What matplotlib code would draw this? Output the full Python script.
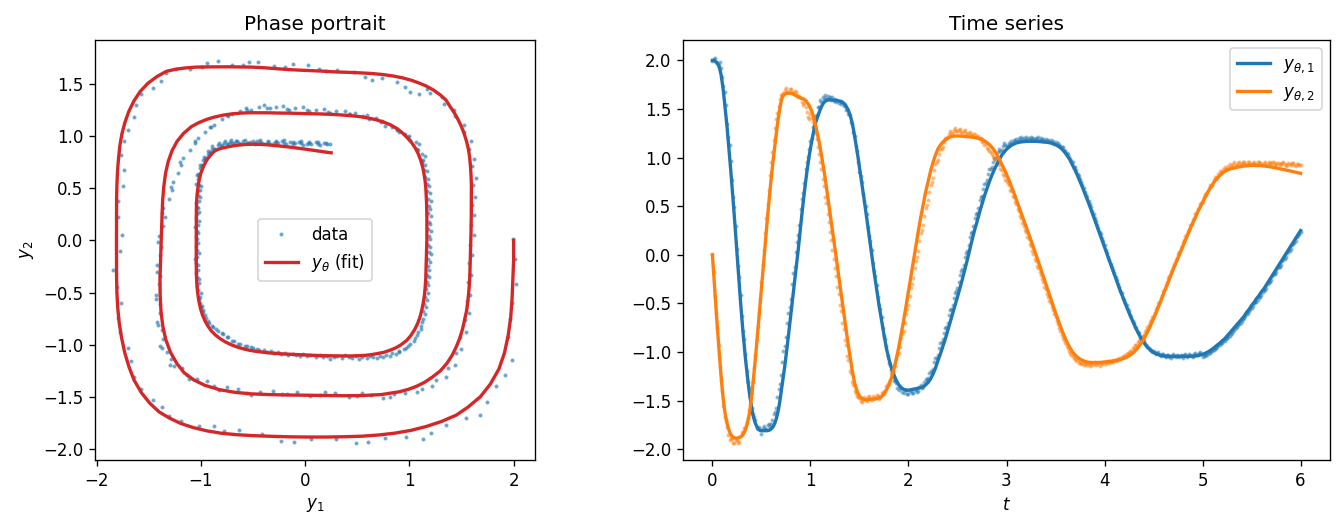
import matplotlib
matplotlib.use("Agg")
import matplotlib.pyplot as plt
import numpy as np

# time grids: fit is sampled finer on the fast first loop
t_fit = np.concatenate([np.linspace(0, 1.5, 121), np.linspace(1.525, 6, 180)])
t_data = np.linspace(0, 6, 481)

# fitted trajectory y_theta
y1_fit = [
    2.0, 2.0, 1.992, 1.985, 1.972, 1.948, 1.912, 1.858, 1.775, 1.68, 1.56, 1.45, 1.31, 1.165, 1.02, 0.865, 0.71, 0.545, 0.38, 0.205,
    0.03, -0.145, -0.32, -0.49, -0.65, -0.80, -0.94, -1.07, -1.19, -1.30, -1.40, -1.49, -1.57, -1.64, -1.69, -1.73, -1.76, -1.783, -1.797, -1.805,
    -1.808, -1.809, -1.809, -1.809, -1.809, -1.808, -1.805, -1.799, -1.789, -1.776, -1.757, -1.728, -1.691, -1.642, -1.583, -1.508, -1.42, -1.33, -1.24, -1.15,
    -1.05, -0.945, -0.835, -0.725, -0.615, -0.505, -0.395, -0.285, -0.18, -0.07, 0.05, 0.175, 0.295, 0.415, 0.53, 0.64, 0.745, 0.845, 0.935, 1.02,
    1.095, 1.165, 1.23, 1.295, 1.35, 1.389, 1.426, 1.461, 1.495, 1.524, 1.548, 1.567, 1.579, 1.587, 1.592, 1.595, 1.595, 1.595, 1.594, 1.592,
    1.591, 1.589, 1.586, 1.584, 1.581, 1.578, 1.571, 1.562, 1.55, 1.53, 1.51, 1.484, 1.45, 1.41, 1.359, 1.298, 1.22, 1.15, 1.07, 0.99,
    0.90,
    0.73, 0.555, 0.37, 0.18, 0.0, -0.18, -0.35, -0.52, -0.67, -0.82, -0.96, -1.07, -1.16, -1.23, -1.29, -1.335, -1.365, -1.382, -1.39,
    -1.392, -1.387, -1.382, -1.377, -1.372, -1.366, -1.355, -1.338, -1.313, -1.276, -1.227, -1.166, -1.09, -1.02, -0.944, -0.868, -0.78, -0.694, -0.604, -0.518,
    -0.433, -0.342, -0.25, -0.153, -0.052, 0.054, 0.158, 0.256, 0.343, 0.437, 0.523, 0.607, 0.68, 0.752, 0.817, 0.875, 0.928, 0.974, 1.023, 1.057,
    1.085, 1.108, 1.127, 1.14, 1.151, 1.158, 1.162, 1.165, 1.167, 1.168, 1.168, 1.168, 1.168, 1.166, 1.165, 1.163, 1.16, 1.157, 1.152, 1.145,
    1.134, 1.12, 1.102, 1.078, 1.048, 1.012, 0.973, 0.92, 0.87, 0.815, 0.755, 0.695, 0.63, 0.565, 0.50, 0.43, 0.36, 0.29, 0.22, 0.15,
    0.08, 0.01, -0.06, -0.13, -0.20, -0.27, -0.34, -0.405, -0.47, -0.535, -0.595, -0.655, -0.71, -0.765, -0.815, -0.86, -0.90, -0.933, -0.961, -0.984,
    -1.003, -1.016, -1.026, -1.034, -1.039, -1.042, -1.043, -1.044, -1.044, -1.044, -1.044, -1.044, -1.044, -1.044, -1.044, -1.043, -1.042, -1.04, -1.036, -1.03,
    -1.023, -1.013, -1.001, -0.986, -0.969, -0.948, -0.928, -0.908, -0.885, -0.864, -0.835, -0.806, -0.778, -0.749, -0.72, -0.69, -0.66, -0.63, -0.59, -0.56,
    -0.52, -0.49, -0.45, -0.42, -0.38, -0.35, -0.31, -0.27, -0.23, -0.19, -0.15, -0.11, -0.07, -0.03, 0.01, 0.05, 0.09, 0.13, 0.17, 0.21,
    0.25,
]
y2_fit = [
    0.0, -0.19, -0.38, -0.56, -0.74, -0.91, -1.08, -1.235, -1.38, -1.50, -1.60, -1.675, -1.735, -1.783, -1.82, -1.847, -1.865, -1.877, -1.882, -1.885,
    -1.885, -1.883, -1.878, -1.872, -1.863, -1.849, -1.826, -1.795, -1.756, -1.704, -1.644, -1.56, -1.46, -1.34, -1.21, -1.075, -0.935, -0.79, -0.645, -0.50,
    -0.35, -0.20, -0.05, 0.10, 0.245, 0.39, 0.53, 0.665, 0.79, 0.91, 1.02, 1.13, 1.235, 1.335, 1.425, 1.505, 1.57, 1.62, 1.64, 1.652,
    1.66, 1.662, 1.663, 1.663, 1.662, 1.66, 1.654, 1.646, 1.638, 1.632, 1.627, 1.621, 1.614, 1.61, 1.605, 1.599, 1.589, 1.575, 1.557, 1.534,
    1.507, 1.477, 1.441, 1.395, 1.346, 1.285, 1.23, 1.17, 1.10, 1.027, 0.95, 0.87, 0.79, 0.70, 0.61, 0.52, 0.43, 0.34, 0.25, 0.16,
    0.07, -0.025, -0.12, -0.21, -0.30, -0.39, -0.48, -0.575, -0.67, -0.76, -0.85, -0.937, -1.02, -1.102, -1.18, -1.25, -1.311, -1.358, -1.398, -1.428,
    -1.452,
    -1.478, -1.487, -1.489, -1.486, -1.484, -1.482, -1.478, -1.471, -1.457, -1.431, -1.39, -1.336, -1.269, -1.18, -1.075, -0.955, -0.82, -0.68, -0.53,
    -0.375, -0.22, -0.065, 0.095, 0.24, 0.385, 0.515, 0.645, 0.755, 0.86, 0.95, 1.025, 1.09, 1.128, 1.159, 1.182, 1.201, 1.213, 1.22, 1.223,
    1.223, 1.222, 1.22, 1.219, 1.216, 1.214, 1.211, 1.207, 1.202, 1.195, 1.186, 1.172, 1.156, 1.134, 1.108, 1.075, 1.035, 0.99, 0.935, 0.885,
    0.83, 0.77, 0.705, 0.64, 0.57, 0.50, 0.43, 0.36, 0.29, 0.22, 0.15, 0.075, 0.005, -0.07, -0.145, -0.22, -0.295, -0.37, -0.445, -0.52,
    -0.595, -0.665, -0.735, -0.80, -0.86, -0.915, -0.96, -1.001, -1.03, -1.053, -1.073, -1.085, -1.096, -1.103, -1.106, -1.108, -1.108, -1.107, -1.106, -1.105,
    -1.102, -1.099, -1.096, -1.093, -1.089, -1.085, -1.079, -1.072, -1.064, -1.053, -1.039, -1.021, -1.0, -0.973, -0.942, -0.907, -0.867, -0.82, -0.77, -0.715,
    -0.655, -0.595, -0.535, -0.47, -0.405, -0.34, -0.28, -0.215, -0.15, -0.09, -0.03, 0.03, 0.09, 0.15, 0.21, 0.27, 0.33, 0.38, 0.44, 0.49,
    0.54, 0.59, 0.64, 0.68, 0.72, 0.76, 0.79, 0.815, 0.84, 0.858, 0.872, 0.882, 0.888, 0.894, 0.90, 0.906, 0.91, 0.914, 0.918, 0.92,
    0.921, 0.921, 0.92, 0.919, 0.918, 0.915, 0.912, 0.908, 0.904, 0.899, 0.894, 0.889, 0.884, 0.878, 0.873, 0.867, 0.861, 0.855, 0.849, 0.844,
    0.839,
]

y1_data = [
    1.99, 2.01, 2.02, 1.98, 1.97, 1.95, 1.98, 1.92, 1.83, 1.74, 1.68, 1.54, 1.35, 1.21, 1.13, 0.97, 0.77, 0.60, 0.49, 0.30,
    0.06, -0.11, -0.23, -0.41, -0.63, -0.78, -0.87, -1.02, -1.19, -1.31, -1.37, -1.46, -1.57, -1.64, -1.67, -1.70, -1.78, -1.79, -1.77, -1.80,
    -1.84, -1.78, -1.76, -1.79, -1.79, -1.75, -1.74, -1.77, -1.74, -1.70, -1.64, -1.62, -1.57, -1.46, -1.38, -1.33, -1.24, -1.10, -0.99, -0.94,
    -0.84, -0.70, -0.60, -0.54, -0.45, -0.30, -0.19, -0.12, 0.03, 0.13, 0.20, 0.31, 0.47, 0.57, 0.64, 0.74, 0.88, 0.96, 1.01, 1.09,
    1.17, 1.20, 1.31, 1.33, 1.43, 1.44, 1.52, 1.52, 1.59, 1.57, 1.62, 1.60, 1.64, 1.61, 1.63, 1.60, 1.62, 1.59, 1.62, 1.58,
    1.60, 1.57, 1.59, 1.56, 1.58, 1.55, 1.57, 1.53, 1.54, 1.49, 1.50, 1.45, 1.44, 1.37, 1.35, 1.26, 1.22, 1.12, 1.07, 0.96,
    0.85, 0.81, 0.75, 0.63, 0.55, 0.50, 0.42, 0.29, 0.19, 0.14, 0.05, -0.08, -0.17, -0.22, -0.31, -0.43, -0.52, -0.56, -0.64, -0.75,
    -0.83, -0.87, -0.94, -1.04, -1.11, -1.13, -1.18, -1.26, -1.30, -1.29, -1.32, -1.37, -1.39, -1.36, -1.37, -1.41, -1.42, -1.39, -1.39, -1.43,
    -1.43, -1.40, -1.39, -1.42, -1.42, -1.39, -1.38, -1.41, -1.40, -1.36, -1.34, -1.37, -1.36, -1.31, -1.28, -1.29, -1.27, -1.22, -1.19, -1.20,
    -1.17, -1.10, -1.06, -1.06, -1.03, -0.96, -0.91, -0.90, -0.87, -0.80, -0.75, -0.74, -0.70, -0.62, -0.57, -0.56, -0.52, -0.44, -0.39, -0.37,
    -0.34, -0.28, -0.21, -0.17, -0.15, -0.10, -0.02, 0.02, 0.04, 0.10, 0.18, 0.22, 0.24, 0.30, 0.38, 0.42, 0.43, 0.48, 0.56, 0.59,
    0.61, 0.68, 0.73, 0.74, 0.77, 0.83, 0.88, 0.88, 0.90, 0.96, 1.00, 0.99, 1.01, 1.06, 1.09, 1.07, 1.08, 1.12, 1.15, 1.13,
    1.12, 1.12, 1.15, 1.14, 1.17, 1.15, 1.18, 1.17, 1.19, 1.17, 1.20, 1.18, 1.21, 1.19, 1.20, 1.18, 1.21, 1.19, 1.20, 1.18,
    1.21, 1.19, 1.20, 1.18, 1.20, 1.19, 1.21, 1.18, 1.20, 1.18, 1.19, 1.17, 1.19, 1.17, 1.18, 1.16, 1.18, 1.15, 1.17, 1.14,
    1.16, 1.13, 1.15, 1.13, 1.12, 1.11, 1.11, 1.08, 1.07, 1.05, 1.04, 1.01, 0.99, 0.97, 0.95, 0.90, 0.90, 0.87, 0.83, 0.81,
    0.78, 0.75, 0.72, 0.69, 0.65, 0.62, 0.59, 0.55, 0.52, 0.49, 0.45, 0.42, 0.38, 0.35, 0.31, 0.28, 0.24, 0.21, 0.17, 0.14,
    0.10, 0.05, 0.02, -0.02, -0.05, -0.09, -0.12, -0.16, -0.19, -0.23, -0.26, -0.30, -0.33, -0.37, -0.39, -0.44, -0.46, -0.50, -0.52, -0.56,
    -0.58, -0.62, -0.64, -0.68, -0.70, -0.74, -0.75, -0.79, -0.80, -0.84, -0.85, -0.88, -0.89, -0.92, -0.93, -0.95, -0.96, -0.98, -0.98, -1.00,
    -0.99, -1.01, -1.02, -1.01, -1.00, -1.03, -1.04, -1.02, -1.02, -1.04, -1.05, -1.03, -1.03, -1.05, -1.06, -1.04, -1.02, -1.04, -1.05, -1.03,
    -1.04, -1.05, -1.03, -1.04, -1.06, -1.03, -1.02, -1.05, -1.04, -1.02, -1.03, -1.04, -1.05, -1.02, -1.01, -1.03, -1.03, -1.01, -1.00, -1.02,
    -1.05, -1.03, -1.04, -1.02, -1.03, -1.01, -1.01, -0.99, -0.99, -0.98, -0.97, -0.96, -0.95, -0.93, -0.93, -0.91, -0.91, -0.89, -0.89, -0.87,
    -0.86, -0.84, -0.83, -0.81, -0.80, -0.78, -0.77, -0.75, -0.74, -0.72, -0.71, -0.70, -0.68, -0.66, -0.65, -0.63, -0.61, -0.60, -0.58, -0.56,
    -0.55, -0.53, -0.50, -0.48, -0.48, -0.46, -0.43, -0.43, -0.41, -0.38, -0.36, -0.36, -0.34, -0.30, -0.28, -0.28, -0.26, -0.22, -0.20, -0.20,
    -0.18, -0.14, -0.12, -0.12, -0.10, -0.06, -0.04, -0.04, -0.02, 0.02, 0.04, 0.04, 0.06, 0.10, 0.12, 0.12, 0.14, 0.18, 0.20, 0.21,
    0.24,
]
y2_data = [
    0.01, -0.18, -0.42, -0.60, -0.75, -0.93, -1.15, -1.29, -1.40, -1.55, -1.67, -1.70, -1.77, -1.85, -1.90, -1.88, -1.89, -1.93, -1.94, -1.90,
    -1.90, -1.93, -1.92, -1.86, -1.82, -1.83, -1.78, -1.78, -1.73, -1.68, -1.60, -1.53, -1.42, -1.31, -1.16, -1.03, -0.88, -0.74, -0.60, -0.45,
    -0.28, -0.10, 0.05, 0.22, 0.38, 0.52, 0.67, 0.82, 0.95, 1.06, 1.18, 1.30, 1.40, 1.46, 1.53, 1.60, 1.64, 1.64, 1.66, 1.70,
    1.72, 1.68, 1.68, 1.71, 1.71, 1.67, 1.66, 1.69, 1.68, 1.64, 1.62, 1.63, 1.61, 1.57, 1.54, 1.56, 1.52, 1.47, 1.42, 1.40,
    1.45, 1.41, 1.37, 1.31, 1.25, 1.19, 1.11, 1.04, 0.95, 0.88, 0.78, 0.71, 0.60, 0.53, 0.42, 0.34, 0.24, 0.15, 0.05, -0.04,
    -0.14, -0.22, -0.33, -0.40, -0.52, -0.58, -0.70, -0.76, -0.88, -0.93, -1.04, -1.08, -1.19, -1.22, -1.31, -1.34, -1.40, -1.42, -1.45, -1.46,
    -1.47, -1.50, -1.51, -1.48, -1.46, -1.49, -1.50, -1.46, -1.45, -1.48, -1.49, -1.45, -1.47, -1.47, -1.44, -1.45, -1.48, -1.46, -1.42, -1.41,
    -1.43, -1.40, -1.35, -1.33, -1.33, -1.29, -1.22, -1.20, -1.19, -1.14, -1.07, -1.03, -1.01, -0.95, -0.86, -0.81, -0.78, -0.70, -0.61, -0.56,
    -0.52, -0.42, -0.34, -0.30, -0.24, -0.14, -0.06, -0.02, 0.04, 0.14, 0.22, 0.26, 0.31, 0.40, 0.48, 0.51, 0.56, 0.65, 0.72, 0.75,
    0.79, 0.87, 0.93, 0.95, 0.98, 1.04, 1.09, 1.09, 1.11, 1.16, 1.20, 1.19, 1.21, 1.24, 1.27, 1.25, 1.25, 1.28, 1.30, 1.27,
    1.27, 1.28, 1.29, 1.26, 1.25, 1.27, 1.28, 1.25, 1.24, 1.25, 1.26, 1.23, 1.22, 1.24, 1.24, 1.21, 1.21, 1.22, 1.19, 1.20,
    1.16, 1.17, 1.13, 1.14, 1.10, 1.09, 1.07, 1.06, 1.04, 1.02, 1.00, 0.99, 0.96, 0.94, 0.92, 0.88, 0.87, 0.83, 0.81, 0.77,
    0.76, 0.74, 0.72, 0.67, 0.66, 0.61, 0.59, 0.54, 0.52, 0.47, 0.45, 0.40, 0.38, 0.33, 0.30, 0.26, 0.23, 0.18, 0.16, 0.11,
    0.09, 0.04, 0.01, -0.04, -0.06, -0.11, -0.13, -0.18, -0.21, -0.25, -0.28, -0.33, -0.35, -0.40, -0.43, -0.47, -0.50, -0.54, -0.57, -0.61,
    -0.64, -0.68, -0.71, -0.75, -0.78, -0.82, -0.85, -0.88, -0.91, -0.94, -0.96, -0.99, -1.01, -1.03, -1.04, -1.06, -1.07, -1.09, -1.08, -1.11,
    -1.10, -1.12, -1.11, -1.13, -1.12, -1.11, -1.13, -1.12, -1.14, -1.11, -1.13, -1.12, -1.10, -1.13, -1.11, -1.12, -1.14, -1.11, -1.12, -1.10,
    -1.12, -1.10, -1.11, -1.09, -1.11, -1.10, -1.09, -1.10, -1.08, -1.09, -1.07, -1.08, -1.06, -1.07, -1.05, -1.05, -1.04, -1.03, -1.02, -1.01,
    -1.01, -0.99, -0.99, -0.96, -0.96, -0.93, -0.93, -0.90, -0.89, -0.87, -0.85, -0.83, -0.82, -0.79, -0.77, -0.74, -0.72, -0.69, -0.67, -0.64,
    -0.63, -0.60, -0.56, -0.54, -0.50, -0.48, -0.44, -0.41, -0.37, -0.35, -0.31, -0.28, -0.24, -0.22, -0.18, -0.16, -0.12, -0.09, -0.05, -0.03,
    0.01, 0.03, 0.07, 0.09, 0.13, 0.15, 0.19, 0.21, 0.25, 0.27, 0.31, 0.32, 0.36, 0.38, 0.42, 0.43, 0.47, 0.48, 0.52, 0.53,
    0.54, 0.59, 0.63, 0.62, 0.64, 0.69, 0.72, 0.71, 0.72, 0.77, 0.80, 0.78, 0.79, 0.83, 0.86, 0.84, 0.85, 0.88, 0.90, 0.88,
    0.88, 0.91, 0.93, 0.90, 0.91, 0.93, 0.95, 0.92, 0.92, 0.94, 0.96, 0.93, 0.93, 0.95, 0.95, 0.93, 0.92, 0.95, 0.96, 0.93,
    0.93, 0.94, 0.95, 0.93, 0.92, 0.95, 0.96, 0.94, 0.93, 0.92, 0.94, 0.95, 0.92, 0.93, 0.95, 0.94, 0.93, 0.95, 0.96, 0.93,
    0.92, 0.94, 0.94, 0.92, 0.93, 0.94, 0.95, 0.93, 0.91, 0.92, 0.94, 0.93, 0.92, 0.94, 0.94, 0.92, 0.91, 0.93, 0.93, 0.92,
    0.92,
]

fig = plt.figure(figsize=(1343 / 120, 529 / 120), dpi=120)
ax1 = fig.add_axes([95 / 1343, 69 / 529, 440 / 1343, 420 / 529])
ax2 = fig.add_axes([683 / 1343, 69 / 529, 647 / 1343, 420 / 529])

# phase portrait
ax1.plot(y1_data, y2_data, ".", color="C0", ms=3, alpha=0.5, label="data")
ax1.plot(y1_fit, y2_fit, color="C3", lw=2, label=r"$y_\theta$ (fit)")
ax1.set_xlim(-2.015, 2.205)
ax1.set_ylim(-2.105, 1.92)
ax1.set_xlabel(r"$y_1$")
ax1.set_ylabel(r"$y_2$")
ax1.set_title("Phase portrait")
ax1.legend(loc="center")

# time series
ax2.plot(t_data, y1_data, ".", color="C0", ms=3, alpha=0.4)
ax2.plot(t_data, y2_data, ".", color="C1", ms=3, alpha=0.4)
ax2.plot(t_fit, y1_fit, color="C0", lw=2, label=r"$y_{\theta,1}$")
ax2.plot(t_fit, y2_fit, color="C1", lw=2, label=r"$y_{\theta,2}$")
ax2.set_xlim(-0.3, 6.3)
ax2.set_ylim(-2.11, 2.21)
ax2.set_xlabel(r"$t$")
ax2.set_title("Time series")
ax2.legend(loc="upper right")

fig.savefig("out.png", dpi=120)
